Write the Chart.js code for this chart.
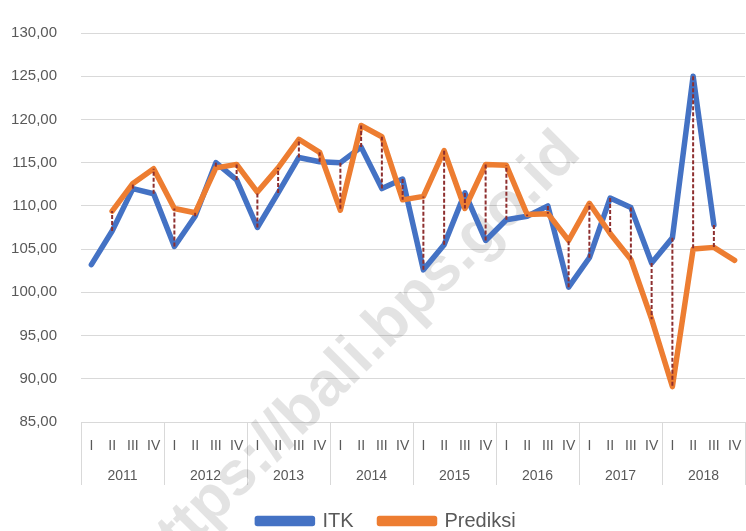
<!DOCTYPE html>
<html lang="id">
<head>
    <meta charset="UTF-8">
    <title>ITK vs Prediksi</title>
    <script src="https://cdn.jsdelivr.net/npm/chart.js"></script>
    <style>
        body { margin: 0; background: #fff; }
        .grafico { width: 746px; height: 531px; }
    </style>
</head>
<body>
    <div class="grafico">
        <canvas id="linha"></canvas>
    </div>

<script>
// dados
const triwulan = ['I','II','III','IV','I','II','III','IV','I','II','III','IV','I','II','III','IV',
                  'I','II','III','IV','I','II','III','IV','I','II','III','IV','I','II','III','IV'];
const tahun = ['2011','2012','2013','2014','2015','2016','2017','2018'];
const itk = [103.2, 107.1, 112.0, 111.4, 105.3, 108.8, 115.0, 113.0,
             107.5, 111.5, 115.6, 115.1, 115.0, 116.8, 112.0, 113.1,
             102.6, 105.5, 111.5, 106.0, 108.4, 108.8, 110.0, 100.6,
             104.0, 110.9, 109.8, 103.4, 106.3, 125.0, 107.8, null];
const prediksi = [null, 109.4, 112.6, 114.3, 109.7, 109.2, 114.4, 114.8,
                  111.6, 114.4, 117.7, 116.2, 109.5, 119.3, 118.0, 110.7,
                  111.1, 116.4, 109.7, 114.8, 114.7, 109.0, 109.1, 106.0,
                  110.3, 106.8, 103.8, 96.9, 89.1, 105.0, 105.2, 103.7];
const yMin = 85, yMax = 130, yStep = 5;

// linhas tracejadas entre as duas séries
const linhasVerticais = {
    id: 'linhasVerticais',
    afterDatasetsDraw(chart) {
        const ctx = chart.ctx;
        const x = chart.scales.x, y = chart.scales.y;
        ctx.save();
        ctx.strokeStyle = '#8e2f2f';
        ctx.lineWidth = 2;
        ctx.setLineDash([4, 2]);
        for (let i = 0; i < itk.length; i++) {
            if (itk[i] == null || prediksi[i] == null) continue;
            const px = x.getPixelForValue(i);
            ctx.beginPath();
            ctx.moveTo(px, y.getPixelForValue(itk[i]));
            ctx.lineTo(px, y.getPixelForValue(prediksi[i]));
            ctx.stroke();
        }
        ctx.restore();
    }
};

// marca d'água
const marcaDagua = {
    id: 'marcaDagua',
    beforeDatasetsDraw(chart) {
        const ctx = chart.ctx;
        ctx.save();
        ctx.translate(154, 584);
        ctx.rotate(-45 * Math.PI / 180);
        ctx.font = 'bold 62px "Liberation Sans", Arial, sans-serif';
        ctx.fillStyle = 'rgba(0,0,0,0.11)';
        ctx.textBaseline = 'alphabetic';
        ctx.fillText('https://bali.bps.go.id', 0, 0);
        ctx.restore();
    }
};

// legenda um pouco à direita, como no original
const moveLegenda = {
    id: 'moveLegenda',
    afterLayout(chart) {
        chart.legend.left += 11;
        chart.legend.right += 11;
    }
};

const cinza = '#595959';
const fonte = '"Liberation Sans", Arial, sans-serif';

new Chart(document.getElementById('linha'), {
    type: 'line',
    data: {
        labels: triwulan,
        datasets: [{
            label: 'ITK',
            data: itk,
            borderColor: '#4472c4',
            backgroundColor: '#4472c4',
            borderWidth: 5.5,
            pointRadius: 0,
            borderCapStyle: 'round',
            borderJoinStyle: 'round',
            order: 1
        }, {
            label: 'Prediksi',
            data: prediksi,
            borderColor: '#ed7d31',
            backgroundColor: '#ed7d31',
            borderWidth: 5.5,
            pointRadius: 0,
            borderCapStyle: 'round',
            borderJoinStyle: 'round',
            order: 0
        }]
    },
    options: {
        responsive: true,
        maintainAspectRatio: false,
        animation: false,
        layout: { padding: { top: 17, left: 6, right: 1, bottom: -10 } },
        plugins: {
            tooltip: { enabled: false },
            legend: {
                position: 'bottom',
                labels: {
                    boxWidth: 55,
                    boxHeight: 5,
                    padding: 26,
                    color: cinza,
                    font: { family: fonte, size: 20 },
                    sort: (a, b) => a.datasetIndex - b.datasetIndex
                }
            }
        },
        scales: {
            x: {
                type: 'category',
                offset: true,
                border: { display: false },
                grid: {
                    offset: true,
                    drawOnChartArea: false,
                    tickLength: 63,
                    color: c => (c.type !== 'tick' || c.index % 4 === 0) ? '#d9d9d9' : 'rgba(0,0,0,0)'
                },
                ticks: {
                    color: cinza,
                    font: { family: fonte, size: 14 },
                    padding: -47,
                    autoSkip: false,
                    maxRotation: 0
                },
                afterFit: s => { s.height = 36; }
            },
            x2: {
                type: 'category',
                labels: tahun,
                offset: true,
                position: 'bottom',
                border: { display: false },
                grid: { display: false },
                ticks: {
                    color: cinza,
                    font: { family: fonte, size: 14 },
                    padding: 2,
                    maxRotation: 0
                },
                afterFit: s => { s.height = 27; }
            },
            y: {
                min: yMin,
                max: yMax,
                border: { display: false },
                grid: { color: '#d9d9d9', lineWidth: 1, drawTicks: false },
                ticks: {
                    stepSize: yStep,
                    color: cinza,
                    font: { family: fonte, size: 15 },
                    padding: 24,
                    callback: v => v.toFixed(2).replace('.', ',')
                },
                afterFit: s => { s.width = 75; }
            }
        }
    },
    plugins: [marcaDagua, linhasVerticais, moveLegenda]
});
</script>
</body>
</html>
